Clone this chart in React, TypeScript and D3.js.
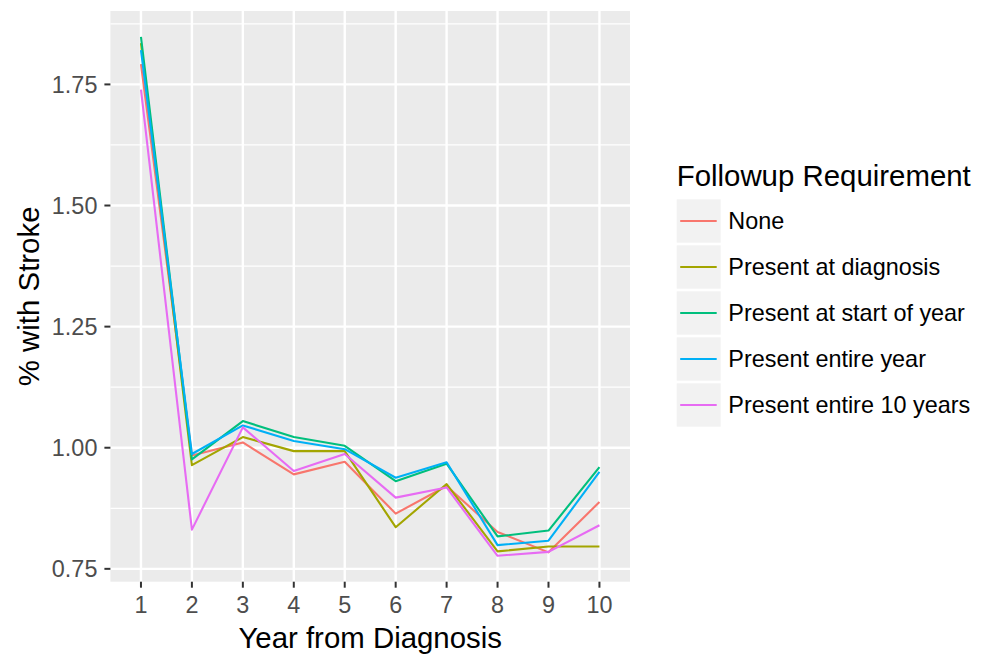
import React from "react";
import * as d3 from "d3";

const years = ["1", "2", "3", "4", "5", "6", "7", "8", "9", "10"];
const seriesNames = [
  "None",
  "Present at diagnosis",
  "Present at start of year",
  "Present entire year",
  "Present entire 10 years",
];
const colors = ["#F8766D", "#A3A500", "#00BF7D", "#00B0F6", "#E76BF3"];
const noneVals = [1.792, 0.984, 1.011, 0.945, 0.971, 0.864, 0.921, 0.826, 0.784, 0.888];
const diagVals = [1.835, 0.964, 1.022, 0.993, 0.993, 0.836, 0.925, 0.786, 0.796, 0.796];
const startVals = [1.848, 0.976, 1.055, 1.022, 1.004, 0.931, 0.967, 0.817, 0.829, 0.960];
const entireVals = [1.821, 0.987, 1.046, 1.014, 0.997, 0.938, 0.970, 0.799, 0.808, 0.950];
const tenVals = [1.739, 0.831, 1.042, 0.952, 0.987, 0.897, 0.918, 0.777, 0.785, 0.840];
const allSeries = [noneVals, diagVals, startVals, entireVals, tenVals];
const yTicks = [0.75, 1.0, 1.25, 1.5, 1.75];
const yMinor = [0.875, 1.125, 1.375, 1.625, 1.875];

const W = 987;
const H = 654;
const left = 110.4;
const right = 630;
const top = 11;
const bottom = 581.7;
const font = "'Liberation Sans', Arial, Helvetica, sans-serif";
const small = 23.4;
const big = 29.4;

export default function App() {
  const x = d3
    .scalePoint<string>()
    .domain(years)
    .range([left, right])
    .padding(0.6);
  const allV = allSeries.flat();
  const vmin = d3.min(allV)!;
  const vmax = d3.max(allV)!;
  const pad = (vmax - vmin) * 0.05;
  const y = d3.scaleLinear().domain([vmin - pad, vmax + pad]).range([bottom, top]);
  const line = d3
    .line<number>()
    .x((_, i) => x(years[i])!)
    .y((d) => y(d));

  const legX = 676.7;
  const keyTop = 199.3;
  const keyH = 43.4;
  const keyPitch = 46;
  const keyW = 44;

  return (
    <svg width={W} height={H} style={{ position: "absolute", left: 0, top: 0 }}>
      <rect x={0} y={0} width={W} height={H} fill="#ffffff" />
      <rect x={left} y={top} width={right - left} height={bottom - top} fill="#EBEBEB" />
      {yMinor.map((t) =>
        y(t) >= top && y(t) <= bottom ? (
          <line key={"mi" + t} x1={left} x2={right} y1={y(t)} y2={y(t)} stroke="#fff" strokeWidth={1.2} />
        ) : null
      )}
      {yTicks.map((t) => (
        <line key={"ma" + t} x1={left} x2={right} y1={y(t)} y2={y(t)} stroke="#fff" strokeWidth={2.4} />
      ))}
      {years.map((yr) => (
        <line key={"vx" + yr} x1={x(yr)} x2={x(yr)} y1={top} y2={bottom} stroke="#fff" strokeWidth={2.4} />
      ))}
      {allSeries.map((s, i) => (
        <path key={"s" + i} d={line(s)!} fill="none" stroke={colors[i]} strokeWidth={2.1} strokeLinejoin="round" />
      ))}
      {/* y axis */}
      {yTicks.map((t) => (
        <g key={"yt" + t}>
          <line x1={left - 6} x2={left} y1={y(t)} y2={y(t)} stroke="#333" strokeWidth={2} />
          <text x={left - 13} y={y(t)} dy="0.35em" textAnchor="end" fontFamily={font} fontSize={small} fill="#4D4D4D">
            {t.toFixed(2)}
          </text>
        </g>
      ))}
      {years.map((yr) => (
        <g key={"xt" + yr}>
          <line x1={x(yr)} x2={x(yr)} y1={bottom} y2={bottom + 6} stroke="#333" strokeWidth={2} />
          <text x={x(yr)} y={bottom + 31} textAnchor="middle" fontFamily={font} fontSize={small} fill="#4D4D4D">
            {yr}
          </text>
        </g>
      ))}
      <text x={(left + right) / 2} y={648} textAnchor="middle" fontFamily={font} fontSize={big} fill="#000">
        Year from Diagnosis
      </text>
      <text
        transform={`translate(39, ${(top + bottom) / 2}) rotate(-90)`}
        textAnchor="middle"
        fontFamily={font}
        fontSize={big}
        fill="#000"
      >
        % with Stroke
      </text>
      {/* legend */}
      <text x={legX} y={186} fontFamily={font} fontSize={big} fill="#000">
        Followup Requirement
      </text>
      {seriesNames.map((n, i) => {
        const ky = keyTop + i * keyPitch;
        return (
          <g key={"lg" + i}>
            <rect x={legX} y={ky} width={keyW} height={keyH} fill="#F2F2F2" />
            <line x1={legX + 3.5} x2={legX + keyW - 4} y1={ky + keyH / 2} y2={ky + keyH / 2} stroke={colors[i]} strokeWidth={2.1} />
            <text x={728.3} y={ky + keyH / 2} dy="0.35em" fontFamily={font} fontSize={small} fill="#000">
              {n}
            </text>
          </g>
        );
      })}
    </svg>
  );
}
